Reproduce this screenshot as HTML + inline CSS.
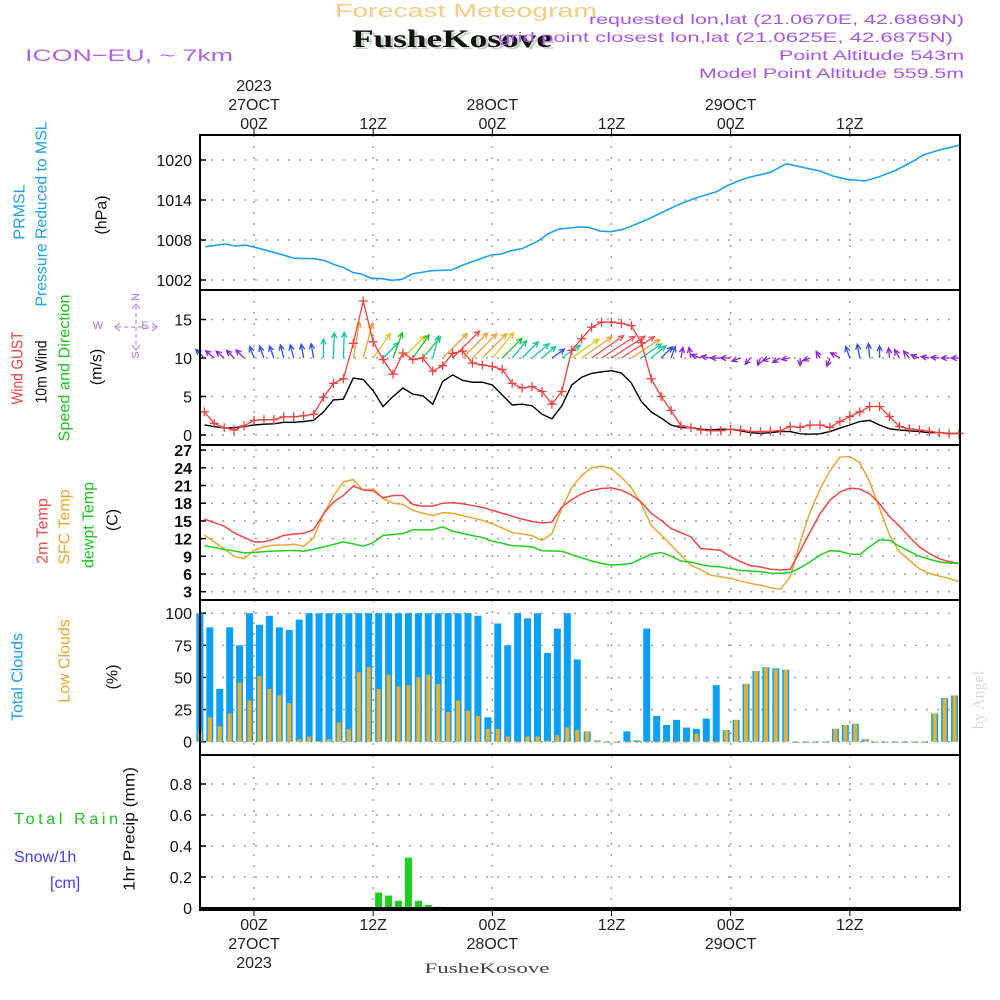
<!DOCTYPE html>
<html><head><meta charset="utf-8"><style>
html,body{margin:0;padding:0;background:#fff;}
svg{display:block;font-family:"Liberation Sans",sans-serif;}
</style></head><body>
<svg id="chart" width="1000" height="1000" viewBox="0 0 1000 1000" xmlns="http://www.w3.org/2000/svg">
<rect x="0" y="0" width="1000" height="1000" fill="#fff"/>
<g id="header">
<text x="335" y="17" font-size="18" fill="#f3cc85" textLength="262" lengthAdjust="spacingAndGlyphs">Forecast Meteogram</text>
<text x="355" y="49" font-size="25" font-weight="bold" fill="#c0d4c0" font-family="Liberation Serif, serif" textLength="200" lengthAdjust="spacingAndGlyphs">FusheKosove</text>
<text x="352" y="47" font-size="25" font-weight="bold" fill="#111" font-family="Liberation Serif, serif" textLength="200" lengthAdjust="spacingAndGlyphs">FusheKosove</text>
<text x="25" y="61" font-size="17" fill="#b060f0" textLength="208" lengthAdjust="spacingAndGlyphs">ICON−EU, ~ 7km</text>
<g fill="#a855e8" font-size="14" text-anchor="end">
<text x="964" y="24" textLength="375" lengthAdjust="spacingAndGlyphs">requested lon,lat (21.0670E, 42.6869N)</text>
<text x="953" y="42" textLength="455" lengthAdjust="spacingAndGlyphs">grid point closest lon,lat (21.0625E, 42.6875N)</text>
<text x="964" y="60" textLength="185" lengthAdjust="spacingAndGlyphs">Point Altitude 543m</text>
<text x="964" y="78" textLength="265" lengthAdjust="spacingAndGlyphs">Model Point Altitude 559.5m</text>
</g>
</g>
<g id="labels" font-size="16" text-anchor="middle" dominant-baseline="central">
<text transform="translate(20,212) rotate(-90)" fill="#1ea0f0">PRMSL</text>
<text transform="translate(42,214) rotate(-90)" fill="#1ea0f0" textLength="185" lengthAdjust="spacingAndGlyphs">Pressure Reduced to MSL</text>
<text transform="translate(102,215) rotate(-90)" fill="#111">(hPa)</text>
<text transform="translate(18,368) rotate(-90)" fill="#f04040" textLength="73" lengthAdjust="spacingAndGlyphs">Wind GUST</text>
<text transform="translate(42,372) rotate(-90)" fill="#111" textLength="63" lengthAdjust="spacingAndGlyphs">10m Wind</text>
<text transform="translate(65,368) rotate(-90)" fill="#20c020" textLength="147" lengthAdjust="spacingAndGlyphs">Speed and Direction</text>
<text transform="translate(97,367) rotate(-90)" fill="#111">(m/s)</text>
<g>
<g stroke="#b070e0" stroke-width="1" fill="none" stroke-dasharray="4 3">
<line x1="117" y1="327" x2="155" y2="327"/><line x1="136" y1="306" x2="136" y2="348"/>
</g>
<g stroke="#b070e0" stroke-width="1" fill="none">
<path d="M120,323 L115,327 L120,331"/><path d="M152,323 L157,327 L152,331"/>
<path d="M132,309 L136,304 L140,309"/><path d="M132,345 L136,350 L140,345"/>
</g>
<g fill="#b070e0" font-size="11">
<text x="98" y="326">W</text><text x="145" y="326">E</text>
<text transform="translate(136,297) rotate(-90)">N</text>
<text transform="translate(136,355) rotate(-90)">S</text>
</g>
</g>
<text transform="translate(43,531) rotate(-90)" fill="#f04848">2m Temp</text>
<text transform="translate(65,527) rotate(-90)" fill="#e8a830">SFC Temp</text>
<text transform="translate(89,525) rotate(-90)" fill="#20c020">dewpt Temp</text>
<text transform="translate(113,520) rotate(-90)" fill="#111">(C)</text>
<text transform="translate(18,677) rotate(-90)" fill="#1ea0f0">Total Clouds</text>
<text transform="translate(65,661) rotate(-90)" fill="#e8a830">Low Clouds</text>
<text transform="translate(113,677) rotate(-90)" fill="#111">(%)</text>
<text transform="translate(130,829) rotate(-90)" fill="#111" textLength="124" lengthAdjust="spacingAndGlyphs">1hr Precip (mm)</text>
<text transform="translate(979,700) rotate(-90)" fill="#d5ddd5" font-family="Liberation Serif, serif">by Angel</text>
</g>
<g font-size="16">
<text x="14" y="824" fill="#20c020" textLength="104" lengthAdjust="spacing">Total  Rain</text>
<text x="14" y="862" fill="#4040ff">Snow/1h</text>
<text x="50" y="888" fill="#4040ff">[cm]</text>
</g>
<text x="487" y="973" font-size="15" fill="#444" text-anchor="middle" font-family="Liberation Serif, serif" textLength="125" lengthAdjust="spacingAndGlyphs">FusheKosove</text>
<g id="plot"></g>
</svg>
<script>
// ---- data ----
const HOURS = Array.from({length: 77}, (_, i) => i - 5); // hours relative to 00Z 27 OCT
const TIME_TICK_HOURS = [0, 12, 24, 36, 48, 60];
const TIME_TICK_TOP = [["2023","27OCT","00Z"],["","","12Z"],["","28OCT","00Z"],["","","12Z"],["","29OCT","00Z"],["","","12Z"]];
const TIME_TICK_BOTTOM = [["00Z","27OCT","2023"],["12Z","",""],["00Z","28OCT",""],["12Z","",""],["00Z","29OCT",""],["12Z","",""]];

const PRES_HOURS = [-4.9,-2.9,-1.9,-0.9,0.1,2.1,4.1,6.1,7.1,8.2,9,10,10.8,11.85,12.9,13.9,14.9,15.9,17.9,19.9,20.9,22.9,23.9,24.9,25.9,27,28.6,29.6,30.6,32.7,33.7,34.8,35.85,37.2,39.5,41.6,42.9,44.6,46.6,47.6,48.6,49.6,52,53.6,55.7,57,58.3,59.7,61.5,63,64.7,66.4,67.4,69,70.4,71];
const PRES_VALUES = [1007.0,1007.4,1007.1,1007.25,1006.9,1006.1,1005.25,1005.2,1004.9,1004.25,1003.9,1003.1,1002.9,1002.25,1002.2,1001.95,1002.1,1002.9,1003.4,1003.5,1004.15,1005.25,1005.75,1005.9,1006.4,1006.7,1007.85,1008.9,1009.6,1009.95,1009.9,1009.35,1009.25,1009.6,1011,1012.5,1013.4,1014.35,1015.25,1016.1,1016.75,1017.3,1018.15,1019.45,1018.75,1018.35,1017.6,1017.1,1016.85,1017.5,1018.5,1019.85,1020.75,1021.5,1022,1022.2];
const PRES_TICKS = [1002, 1008, 1014, 1020];

const GUST = [3.0,1.5,0.95,0.65,1.2,1.9,2.0,2.0,2.35,2.35,2.5,2.7,4.9,6.7,7.3,11.9,17.4,12.1,9.8,7.9,10.65,9.8,10,8.3,9,10.6,10.9,9.35,9.1,8.9,8.5,6.7,6.1,6.3,5.65,4.0,5.65,11,12.5,14,14.65,14.65,14.5,14.2,12,7.3,5,3.2,1.2,0.95,0.65,0.55,0.55,0.75,0.65,0.45,0.45,0.5,0.55,1.1,1.0,1.3,1.3,1.0,1.75,2.4,3.0,3.7,3.7,2.4,1.1,0.8,0.65,0.45,0.3,0.17,0.2];
const WIND = [1.3,1.1,0.9,0.95,1.1,1.3,1.4,1.45,1.65,1.65,1.75,1.9,3.0,4.55,4.65,7.4,7.2,5.75,3.7,5.0,6.1,5.3,5.1,4.0,6.95,7.8,7.1,6.85,6.85,6.5,5.2,3.9,4.0,3.8,2.7,2.1,3.8,6.5,7.5,8.0,8.2,8.35,8.05,6.75,4.35,3.0,2.2,1.3,0.95,0.95,0.75,0.65,0.75,0.75,0.55,0.3,0.2,0.3,0.45,0.45,0.15,0.1,0.15,0.45,0.9,1.3,1.75,1.9,1.3,0.8,0.65,0.55,0.45,0.3,0.3,0.2,0.2];
// direction the arrow points, degrees counter-clockwise from east
const WIND_DIR = [135,140,140,135,135,110,110,110,105,105,100,100,90,88,88,80,75,55,45,70,45,55,50,75,45,45,45,45,45,50,45,50,45,40,40,35,35,35,35,35,33,33,33,33,35,40,45,70,80,100,160,170,180,180,200,230,250,200,210,190,270,200,120,250,150,110,100,95,90,95,120,130,160,170,175,180,180];
const WIND_TICKS = [0, 5, 10, 15];

const T2M = [15.3,14.7,14.1,13.0,12.2,11.45,11.45,11.9,12.55,12.75,12.9,13.5,16.2,18.2,19.3,20.9,20.25,20.1,18.9,19.3,19.3,17.8,17.5,17.5,18,18.1,17.9,17.6,17.3,16.8,16.3,15.8,15.3,14.9,14.65,14.8,17.35,18.6,19.6,20.2,20.5,20.6,20.2,19.4,18.2,16.3,15.1,13.7,13.0,12.3,10.3,10.2,10.0,8.9,8.1,7.4,7.2,6.8,6.7,6.8,9.9,13.1,16.2,18.5,19.9,20.55,20.4,19.6,17.9,15.7,14.1,12.3,10.6,9.5,8.6,8.1,7.8];
const TSFC = [12.6,11.4,10.3,9.0,8.6,10.0,10.6,10.9,10.9,11.05,10.7,12.1,16.2,19.2,21.6,22.0,20.2,20.45,18.75,18.0,17.8,16.8,16.3,15.9,16.4,16.3,15.9,15.5,15.1,14.5,13.8,13.0,12.8,12.5,11.7,12.85,17.1,20.7,22.7,24.0,24.3,23.8,22.4,20.6,17.9,14.25,12.6,10.9,9.2,7.5,6.7,5.8,5.55,5.25,4.8,4.4,4.1,3.7,3.4,5.5,11.4,16.5,20.4,23.5,25.8,25.9,24.9,21.6,17.1,12.6,9.75,8.35,6.9,6.1,5.65,5.25,4.7];
const TDEW = [10.8,10.5,10.15,9.9,9.6,9.65,9.8,9.9,9.95,10.0,9.85,10.2,10.6,11.0,11.45,11.1,10.7,11.3,12.55,12.7,12.85,13.5,13.5,13.5,14.0,13.25,12.9,12.5,12.2,11.55,11.2,10.8,10.7,10.6,9.95,9.9,9.85,9.3,8.75,8.2,7.8,7.5,7.6,7.8,8.6,9.35,9.65,9.0,8.2,8.0,7.6,7.3,7.2,6.9,6.6,6.5,6.4,6.15,6.1,6.25,7.05,8.05,9.2,9.95,9.85,9.4,9.3,10.6,11.8,11.7,10.7,9.85,9.0,8.5,8.05,7.85,7.8];
const TEMP_TICKS = [3,6,9,12,15,18,21,24,27];

const CLOUD_TOTAL = [100,89,41,89,75,100,91,98,89,87,95,100,100,100,100,100,100,100,100,100,100,100,100,100,100,100,100,100,98,19,92,75,100,96,100,69,88,100,64,8,1,0,0,8,1,88,20,13,17,11,10,18,44,9,17,45,55,58,57,56,0,0,0,0,10,13,14,2,0,0,0,0,0,0,22,34,36];
const CLOUD_LOW = [9,19,12,22,46,32,51,41,36,30,2,4,0.5,2,15,10,54,58,41,52,43,44,50,52,45,23,32,24,20,10,10,4,0,4,4,1,5,11,9,8,1,0,0,0,0,0,0,0,0,0,6,0,0,9,17,45,55,58,56,56,0,0,0,0,10,13,14,2,0,0,0,0,0,0,22,34,36];
const CLOUD_TICKS = [0,25,50,75,100];

const PRECIP_HOURS = [13,14,15,16,17,18,19];
const PRECIP_VALUES = [0.10,0.08,0.047,0.325,0.047,0.02,0.008];
const PRECIP_TICKS = [0,0.2,0.4,0.6,0.8];

// ---- scales ----
const L = 200, R = 960;
const PANELS = [[135,290],[290,445],[445,600],[600,755],[755,910]];
const X = h => 254 + h * 9.93;
const yP = p => 160 + (1020 - p) * 40 / 6;
const yW = w => 435 - w * 7.7;
const yT = t => 591.7 - (t - 3) * 5.9;
const yC = c => 741.7 - c * 1.285;
const yR = r => 908 - r * 155;

const NS = 'http://www.w3.org/2000/svg';
const plot = document.getElementById('plot');
function mk(tag, attrs, parent) {
  const el = document.createElementNS(NS, tag);
  for (const k in attrs) el.setAttribute(k, attrs[k]);
  (parent || plot).appendChild(el);
  return el;
}
function txt(x, y, s, attrs, parent) {
  const el = mk('text', Object.assign({x: x, y: y}, attrs), parent);
  el.textContent = s;
  return el;
}

// grids
const grid = mk('g', {stroke: '#a0a0a0', 'stroke-width': 1.5, 'stroke-dasharray': '2 9', fill: 'none'});


PANELS.forEach(p => {
  TIME_TICK_HOURS.forEach(h => {
    const l = mk('line', {x1: X(h), x2: X(h), y1: p[0], y2: p[1]}, grid);
    
    
  });
});
function hgrid(ticks, yf, labels, bold) {
  ticks.forEach((t, i) => {
    const l = mk('line', {x1: L, x2: R, y1: yf(t), y2: yf(t)}, grid);
    
    
    const tk = mk('line', {x1: L, x2: L + 6, y1: yf(t), y2: yf(t), stroke: '#000', 'stroke-width': 1.5});
    
    
    const lb = txt(192, yf(t) + 6, labels[i], {'font-size': 16, 'text-anchor': 'end', fill: '#111', 'font-weight': bold ? 'bold' : 'normal'});
    
    
  });
}
hgrid(PRES_TICKS, yP, PRES_TICKS.map(String), false);
hgrid(WIND_TICKS, yW, WIND_TICKS.map(String), false);
hgrid(TEMP_TICKS, yT, TEMP_TICKS.map(String), true);
hgrid(CLOUD_TICKS, yC, CLOUD_TICKS.map(String), false);
hgrid(PRECIP_TICKS, yR, PRECIP_TICKS.map(v => v === 0 ? '0' : v.toFixed(1)), false);

// pressure
const presLine = mk('polyline', {points: PRES_HOURS.map((h, i) => X(h) + ',' + yP(PRES_VALUES[i])).join(' '), fill: 'none', stroke: '#1ea0f0', 'stroke-width': 1.6});



// wind arrows
function windColor(s) {
  if (s < 1.2) return '#9020e0';
  if (s < 2.5) return '#3050f0';
  if (s < 4.7) return '#10c8a0';
  if (s < 5.5) return '#20c020';
  if (s < 6.6) return '#e8c020';
  if (s < 7.6) return '#f0a030';
  return '#f05050';
}
const arrows = mk('g', {fill: 'none', 'stroke-width': 1.3});


HOURS.forEach((h, i) => {
  const len = Math.min(40, 7 + 4 * WIND[i]);
  const a = WIND_DIR[i] * Math.PI / 180;
  const x0 = X(h), y0 = 358;
  const x1 = x0 + len * Math.cos(a), y1 = y0 - len * Math.sin(a);
  const hl = 6, b1 = a + Math.PI - 0.45, b2 = a + Math.PI + 0.45;
  const d = `M${x0},${y0}L${x1},${y1}M${x1 + hl * Math.cos(b1)},${y1 - hl * Math.sin(b1)}L${x1},${y1}L${x1 + hl * Math.cos(b2)},${y1 - hl * Math.sin(b2)}`;
  const p = mk('path', {d: d, stroke: windColor(WIND[i])}, arrows);
  
  
});

// wind speed & gust
const windLine = mk('polyline', {points: HOURS.map((h, i) => X(h) + ',' + yW(WIND[i])).join(' '), fill: 'none', stroke: '#000', 'stroke-width': 1.4});


const gustLine = mk('polyline', {points: HOURS.map((h, i) => X(h) + ',' + yW(GUST[i])).join(' '), fill: 'none', stroke: '#f04040', 'stroke-width': 1.3});


HOURS.forEach((h, i) => {
  const x = X(h), y = yW(GUST[i]);
  const m = mk('path', {d: `M${x - 4.5},${y}H${x + 4.5}M${x},${y - 4.5}V${y + 4.5}`, stroke: '#f04040', 'stroke-width': 1.3});
  
  
});

// temperatures
[[TSFC, '#e8a830', 'sfc-temp-line'], [T2M, '#f04848', 'temp-2m-line'], [TDEW, '#20d020', 'dewpoint-line']].forEach(s => {
  const pl = mk('polyline', {points: HOURS.map((h, i) => X(h) + ',' + yT(s[0][i])).join(' '), fill: 'none', stroke: s[1], 'stroke-width': 1.5});
  
  
});

// clouds
HOURS.forEach((h, i) => {
  const cx = X(h - 0.45);
  const tb = yC(CLOUD_TOTAL[i]);
  const b = mk('rect', {x: cx - 3.5, y: tb, width: 7, height: Math.max(1, yC(0) - tb), fill: '#0aa0f8'});
  
  
  const lb = yC(CLOUD_LOW[i]);
  const o = mk('rect', {x: cx - 2, y: lb, width: 4, height: Math.max(1, yC(0) - lb), fill: '#e8b030'});
  
  
});

// precip
PRECIP_HOURS.forEach((h, i) => {
  const cx = X(h - 0.45);
  const t = yR(PRECIP_VALUES[i]);
  const b = mk('rect', {x: cx - 3.5, y: t, width: 7, height: yR(0) - t, fill: '#20cc20'});
  
  
});
const base = mk('line', {x1: L, x2: R, y1: yR(0), y2: yR(0), stroke: '#000', 'stroke-width': 2});



// frames
PANELS.forEach((p, i) => {
  const r = mk('rect', {x: L, y: p[0], width: R - L, height: p[1] - p[0], fill: 'none', stroke: '#000', 'stroke-width': 2});
  
  
});

// time axis labels
TIME_TICK_HOURS.forEach((h, i) => {
  const x = X(h);
  const t1 = mk('line', {x1: x, x2: x, y1: 128, y2: 135, stroke: '#000', 'stroke-width': 1});
  
  
  const t2 = mk('line', {x1: x, x2: x, y1: 910, y2: 916, stroke: '#000', 'stroke-width': 1});
  
  
  TIME_TICK_TOP[i].forEach((s, j) => {
    if (!s) return;
    const el = txt(x, 91 + j * 19, s, {'font-size': 16, 'text-anchor': 'middle', fill: '#222'});
    
    
  });
  TIME_TICK_BOTTOM[i].forEach((s, j) => {
    if (!s) return;
    const el = txt(x, 930 + j * 19, s, {'font-size': 16, 'text-anchor': 'middle', fill: '#222'});
    
    
  });
});
</script>
</body></html>
